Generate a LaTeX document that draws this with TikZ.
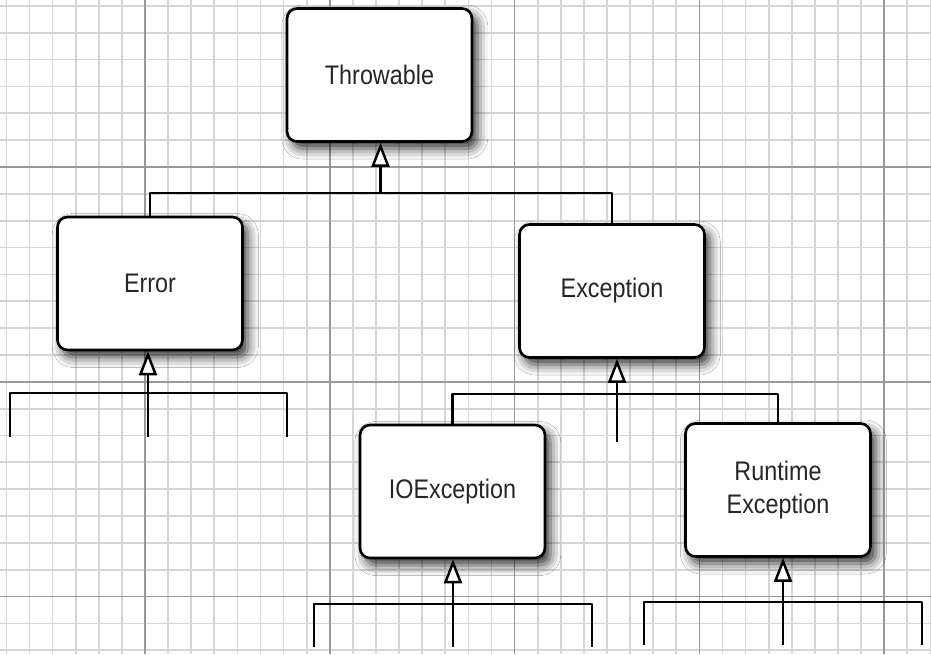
\documentclass[tikz,border=0pt]{standalone}
\usepackage{fontspec}
\setmainfont{Liberation Sans}
\usetikzlibrary{arrows.meta,shadows.blur}
\definecolor{gridminor}{gray}{0.84}
\definecolor{gridmajor}{gray}{0.6}
\newcommand{\tall}[1]{\scalebox{1}[1.15]{#1}}
\begin{document}
\begin{tikzpicture}[x=0.02cm,y=-0.02cm,
cls/.style={draw,line width=1.5pt,rounded corners=0.2cm,fill=white,minimum width=3.7cm,minimum height=2.66cm,align=center,font=\fontsize{13.3}{18.5}\selectfont,text=black!85,blur shadow={shadow xshift=3pt,shadow yshift=-4pt,shadow blur radius=6pt,shadow opacity=80}},
link/.style={line width=1.4pt,line join=round},
isa/.style={link,-{Triangle[fill=white,length=0.48cm,width=0.36cm]}}]
\pgfmathsetmacro{\gx}{23.1}
\pgfmathsetmacro{\gy}{26.85}
\fill[white](0,0)rectangle(931,654);
\useasboundingbox(0,0)rectangle(931,654);
\foreach \k in {0,...,40}{\draw[gridminor,line width=1pt]({6.4+\k*\gx},0)--++(0,654);}
\foreach \k in {0,...,24}{\draw[gridminor,line width=1pt](0,{5.9+\k*\gy})--++(931,0);}
\foreach \k in {6,14,22,30,38}{\draw[gridmajor,line width=1pt]({6.4+\k*\gx},0)--++(0,654);}
\foreach \k in {6,14,22}{\draw[gridmajor,line width=1pt](0,{5.9+\k*\gy})--++(931,0);}
\node[cls](throwable)at(379.5,75){\tall{Throwable}};
\node[cls](error)at(150,283.5){\tall{Error}};
\node[cls](exception)at(612,291){\tall{Exception}};
\node[cls](ioexc)at(452.5,491.5){\tall{IOException}};
\node[cls](runtime)at(778,490){\tall{Runtime}\\\tall{Exception}};
\coordinate(tb)at(380.5,193);
\draw[link](error.north)|-(tb)-|(exception.north);
\draw[isa](tb)--(tb|-throwable.south);
\coordinate(eb)at(148,393);
\coordinate(e1)at(10,437);\coordinate(e2)at(148,437);\coordinate(e3)at(287,437);
\draw[link](e1)|-(eb)-|(e3);
\draw[isa](e2)--(e2|-error.south);
\coordinate(xb)at(617,394);\coordinate(xe)at(617,442);
\draw[link](ioexc.north)|-(xb)-|(runtime.north);
\draw[isa](xe)--(xe|-exception.south);
\coordinate(ib)at(453,604);
\coordinate(i1)at(314,647);\coordinate(i2)at(453,647);\coordinate(i3)at(592,647);
\draw[link](i1)|-(ib)-|(i3);
\draw[isa](i2)--(i2|-ioexc.south);
\coordinate(rb)at(783,602);
\coordinate(r1)at(644,645);\coordinate(r2)at(783,645);\coordinate(r3)at(922,645);
\draw[link](r1)|-(rb)-|(r3);
\draw[isa](r2)--(r2|-runtime.south);
\end{tikzpicture}
\end{document}
